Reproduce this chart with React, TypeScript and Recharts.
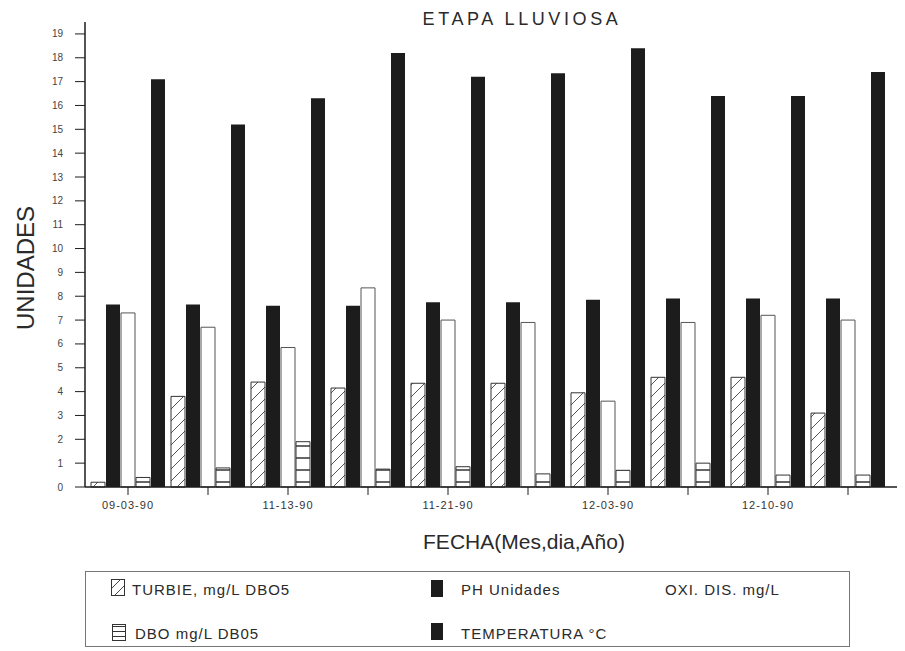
import React from 'react';
import { BarChart, Bar, XAxis, YAxis, Label } from 'recharts';

// fechas de muestreo (solo se rotula una de cada dos)
const fechas = ['09-03-90', '', '11-13-90', '', '11-21-90', '', '12-03-90', '', '12-10-90', ''];
const turbie = [0.2, 3.8, 4.4, 4.15, 4.35, 4.35, 3.95, 4.6, 4.6, 3.1];
const ph = [7.65, 7.65, 7.6, 7.6, 7.75, 7.75, 7.85, 7.9, 7.9, 7.9];
const oxi = [7.3, 6.7, 5.85, 8.35, 7.0, 6.9, 3.6, 6.9, 7.2, 7.0];
const dbo = [0.4, 0.8, 1.9, 0.75, 0.85, 0.55, 0.7, 1.0, 0.5, 0.5];
const temp = [17.1, 15.2, 16.3, 18.2, 17.2, 17.35, 18.4, 16.4, 16.4, 17.4];
const yTicks = [0, 1, 2, 3, 4, 5, 6, 7, 8, 9, 10, 11, 12, 13, 14, 15, 16, 17, 18, 19];

const data = fechas.map((f, i) => ({
    i,
    fecha: f,
    turbie: turbie[i],
    ph: ph[i],
    oxi: oxi[i],
    dbo: dbo[i],
    temp: temp[i],
}));

const FONT = '"Liberation Sans", Arial, sans-serif';
const INK = '#1c1c1c';

function Swatch({ kind }: { kind: 'hatch' | 'lines' | 'solid' }) {
    const w = kind === 'solid' ? 12 : 14;
    const h = 17;
    return (
        <svg width={w} height={h} style={{ display: 'block' }}>
            <defs>
                <pattern id="lg-hatch" width="10" height="10" patternUnits="userSpaceOnUse">
                    <path d="M-1,11 L11,-1" stroke="#444" strokeWidth="1" />
                </pattern>
                <pattern id="lg-lines" width="6" height="5" patternUnits="userSpaceOnUse">
                    <path d="M0,2.5 L6,2.5" stroke="#333" strokeWidth="1" />
                </pattern>
            </defs>
            {kind === 'solid' && <rect x={0} y={0} width={w} height={h} fill={INK} />}
            {kind === 'hatch' && (
                <rect x={0.5} y={0.5} width={w - 1} height={h - 1} fill="url(#lg-hatch)" stroke="#333" />
            )}
            {kind === 'lines' && (
                <rect x={0.5} y={0.5} width={w - 1} height={h - 1} fill="url(#lg-lines)" stroke="#333" />
            )}
        </svg>
    );
}

const legendText: React.CSSProperties = {
    position: 'absolute',
    fontFamily: FONT,
    fontSize: 15,
    lineHeight: '15px',
    letterSpacing: 1,
    color: '#2a2a2a',
    whiteSpace: 'nowrap',
};

export default function App() {
    return (
        <div style={{ position: 'relative', width: 897, height: 643, background: '#fff' }}>
            <div
                style={{
                    position: 'absolute',
                    left: 314,
                    width: 400,
                    top: 2,
                    textAlign: 'center',
                    fontFamily: FONT,
                    fontSize: 18,
                    lineHeight: '18px',
                    letterSpacing: 3.6,
                    color: '#2a2a2a',
                }}
            >
                ETAPA LLUVIOSA
            </div>
            <BarChart
                width={897}
                height={643}
                data={data}
                margin={{ top: 14, right: 0, left: 0, bottom: 134 }}
                barSize={14}
                barGap={1}
            >
                <defs>
                    <pattern id="hatch" width="12" height="12" patternUnits="userSpaceOnUse">
                        <path d="M-1,13 L13,-1" stroke="#555" strokeWidth="1" />
                    </pattern>
                    <pattern id="hlines" width="14" height="12" patternUnits="userSpaceOnUse">
                        <path d="M0,6 L14,6" stroke="#333" strokeWidth="1.5" />
                    </pattern>
                </defs>
                <XAxis
                    dataKey="i"
                    type="category"
                    interval={0}
                    height={30}
                    padding={{ left: 3, right: 17 }}
                    tickFormatter={(v) => fechas[v]}
                    tickSize={8}
                    tickMargin={6}
                    axisLine={{ stroke: INK, strokeWidth: 1.5 }}
                    tickLine={{ stroke: INK }}
                    tick={{ fontSize: 11, fill: '#333', fontFamily: FONT, letterSpacing: 1 }}
                >
                    <Label
                        content={() => (
                            <text
                                x={516}
                                y={541}
                                textAnchor="middle"
                                fontFamily={FONT}
                                fontSize={21}
                                fill="#2a2a2a"
                            >
                                FECHA(Mes,dia,Año)
                            </text>
                        )}
                    />
                </XAxis>
                <YAxis
                    width={77}
                    domain={[0, 19.5]}
                    ticks={yTicks}
                    interval={0}
                    tickSize={10}
                    tickMargin={12}
                    axisLine={{ stroke: INK, strokeWidth: 1.5 }}
                    tickLine={{ stroke: INK }}
                    tick={{ fontSize: 10, fill: '#444', fontFamily: FONT }}
                >
                    <Label
                        content={() => (
                            <text
                                x={17}
                                y={260}
                                transform="rotate(-90 17 260)"
                                textAnchor="middle"
                                dominantBaseline="central"
                                fontFamily={FONT}
                                fontSize={24}
                                fill="#2a2a2a"
                            >
                                UNIDADES
                            </text>
                        )}
                    />
                </YAxis>
                <Bar dataKey="turbie" fill="url(#hatch)" stroke="#333" strokeWidth={1} isAnimationActive={false} />
                <Bar dataKey="ph" fill={INK} isAnimationActive={false} />
                <Bar dataKey="oxi" fill="#fff" stroke="#555" strokeWidth={1} isAnimationActive={false} />
                <Bar dataKey="dbo" fill="url(#hlines)" stroke="#333" strokeWidth={1} isAnimationActive={false} />
                <Bar dataKey="temp" fill={INK} isAnimationActive={false} />
            </BarChart>
            <div
                style={{
                    position: 'absolute',
                    left: 77,
                    top: 563,
                    width: 765,
                    height: 76,
                    border: '1px solid #777',
                    boxSizing: 'border-box',
                }}
            >
                <div style={{ position: 'absolute', left: 25, top: 7 }}>
                    <Swatch kind="hatch" />
                </div>
                <span style={{ ...legendText, left: 46, top: 10 }}>TURBIE, mg/L DBO5</span>
                <div style={{ position: 'absolute', left: 345, top: 8 }}>
                    <Swatch kind="solid" />
                </div>
                <span style={{ ...legendText, left: 375, top: 10 }}>PH Unidades</span>
                <span style={{ ...legendText, left: 579, top: 10 }}>OXI. DIS. mg/L</span>
                <div style={{ position: 'absolute', left: 26, top: 52 }}>
                    <Swatch kind="lines" />
                </div>
                <span style={{ ...legendText, left: 49, top: 54 }}>DBO mg/L DB05</span>
                <div style={{ position: 'absolute', left: 345, top: 51 }}>
                    <Swatch kind="solid" />
                </div>
                <span style={{ ...legendText, left: 375, top: 54 }}>TEMPERATURA °C</span>
            </div>
        </div>
    );
}
